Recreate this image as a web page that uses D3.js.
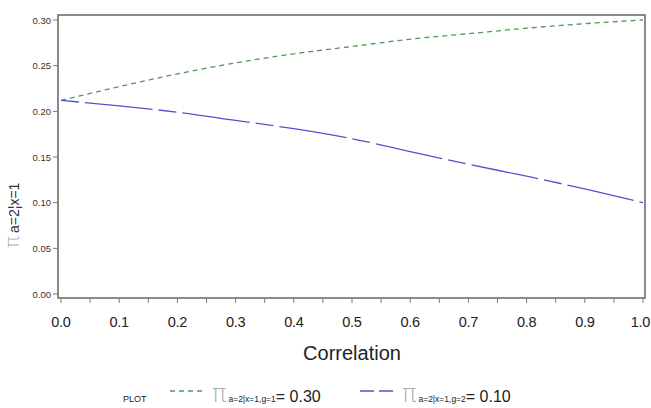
<!DOCTYPE html>
<html>
<head>
<meta charset="utf-8">
<script src="https://cdn.jsdelivr.net/npm/d3@7"></script>
<style>
  body { margin: 0; background: #fff; }
  svg { display: block; font-family: "Liberation Sans", Arial, sans-serif; }
</style>
</head>
<body>
<svg id="chart" width="651" height="408"></svg>
<script>
const corr = [0, 0.1, 0.2, 0.3, 0.4, 0.5, 0.6, 0.7, 0.8, 0.9, 1.0];
const pi1 = [0.212, 0.227, 0.241, 0.253, 0.263, 0.271, 0.279, 0.285, 0.291, 0.296, 0.300];
const pi2 = [0.212, 0.206, 0.199, 0.190, 0.181, 0.170, 0.156, 0.142, 0.129, 0.115, 0.100];
const xTicks = [0, 0.1, 0.2, 0.3, 0.4, 0.5, 0.6, 0.7, 0.8, 0.9, 1.0];
const yTicks = [0, 0.05, 0.10, 0.15, 0.20, 0.25, 0.30];

const series = [
  { vals: pi1, color: "#4f9a4f", dash: "5,4", sub: "a=2|x=1,g=1", label: "= 0.30" },
  { vals: pi2, color: "#5252cf", dash: "18,6,68,6", sub: "a=2|x=1,g=2", label: "= 0.10" }
];

const svg = d3.select("#chart");
const frame = { left: 58, top: 15, right: 645, bottom: 298 };

const x = d3.scaleLinear().domain([0, 1]).range([61, 643]);
const y = d3.scaleLinear().domain([0, 0.30]).range([294, 20]);

// frame
svg.append("rect")
  .attr("x", frame.left).attr("y", frame.top)
  .attr("width", frame.right - frame.left)
  .attr("height", frame.bottom - frame.top)
  .attr("fill", "none").attr("stroke", "#6e6e6e").attr("stroke-width", 1.6);

// x axis ticks (major + minor)
const xAx = svg.append("g").attr("transform", `translate(0,${frame.bottom})`);
xAx.selectAll("line.minor")
  .data(d3.range(0, 1.0001, 0.05))
  .join("line")
  .attr("x1", d => x(d)).attr("x2", d => x(d))
  .attr("y1", 0).attr("y2", 5)
  .attr("stroke", "#7a7a7a").attr("stroke-width", 1);
xAx.selectAll("text")
  .data(xTicks)
  .join("text")
  .attr("x", d => d === 1 ? 650 : x(d))
  .attr("y", 29)
  .attr("text-anchor", d => d === 1 ? "end" : "middle")
  .attr("font-size", 14.5)
  .attr("letter-spacing", -0.3)
  .attr("fill", "#222")
  .text(d => d3.format(".1f")(d));

svg.append("text")
  .attr("x", (x(0) + x(1)) / 2)
  .attr("y", 360)
  .attr("text-anchor", "middle")
  .attr("font-size", 20)
  .attr("fill", "#222")
  .text("Correlation");

// y axis
const yAx = svg.append("g").attr("transform", `translate(${frame.left},0)`);
yAx.selectAll("line")
  .data(yTicks)
  .join("line")
  .attr("x1", -5).attr("x2", 0)
  .attr("y1", d => y(d)).attr("y2", d => y(d))
  .attr("stroke", "#7a7a7a").attr("stroke-width", 1);
yAx.selectAll("text")
  .data(yTicks)
  .join("text")
  .attr("x", -7)
  .attr("y", d => y(d) + 3.5)
  .attr("text-anchor", "end")
  .attr("font-size", 9.5)
  .attr("fill", "#333")
  .text(d => d3.format(".2f")(d));

// y label
const yl = svg.append("text")
  .attr("transform", "translate(19,248) rotate(-90)")
  .attr("text-anchor", "start")
  .attr("fill", "#333");
yl.append("tspan").attr("font-size", 20).attr("fill", "#aaa")
  .attr("font-family", "DejaVu Sans").attr("font-weight", 200).text("π");
yl.append("tspan").attr("font-size", 14).attr("dx", 3).text("a=2¦x=1");

// lines
const line = d3.line()
  .x((d, i) => x(corr[i]))
  .y(d => y(d))
  .curve(d3.curveMonotoneX);

series.forEach(s => {
  svg.append("path")
    .datum(s.vals)
    .attr("fill", "none")
    .attr("stroke", s.color)
    .attr("stroke-width", 1.3)
    .attr("stroke-dasharray", s.dash)
    .attr("d", line);
});

// legend
const leg = svg.append("g");
leg.append("text").attr("x", 123).attr("y", 402)
  .attr("font-size", 9).attr("fill", "#222").text("PLOT");
const legX = [170, 360];
series.forEach((s, i) => {
  const g = leg.append("g").attr("transform", `translate(${legX[i]},0)`);
  g.append("line")
    .attr("x1", 0).attr("x2", 34).attr("y1", 391).attr("y2", 391)
    .attr("stroke", s.color).attr("stroke-width", 1.3)
    .attr("stroke-dasharray", i === 0 ? "5,4" : "14,5");
  const t = g.append("text").attr("x", 42).attr("y", 402).attr("fill", "#222");
  t.append("tspan").attr("font-size", 24).attr("fill", "#aaa")
    .attr("font-family", "DejaVu Sans").attr("font-weight", 200).text("π");
  t.append("tspan").attr("font-size", 8.5).attr("dx", 2).text(s.sub);
  t.append("tspan").attr("font-size", 16).text(s.label);
});
</script>
</body>
</html>
